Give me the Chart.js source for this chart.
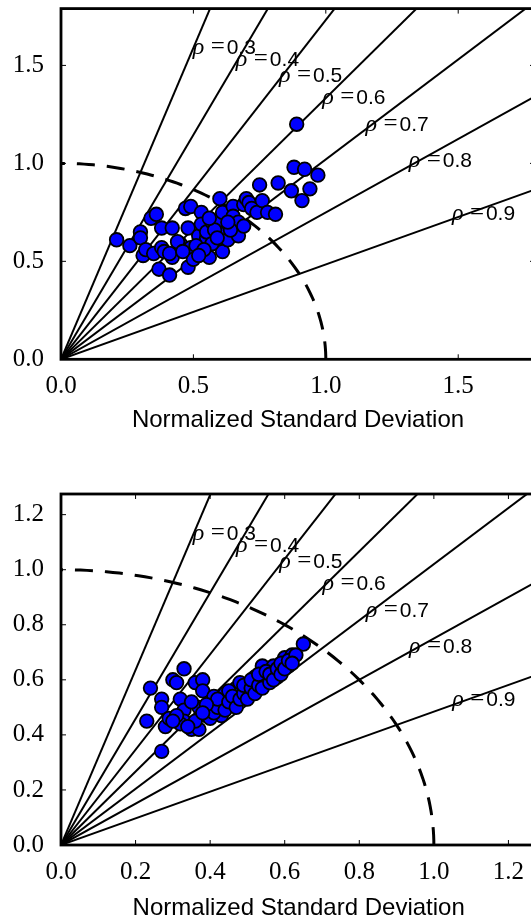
<!DOCTYPE html>
<html>
<head>
<meta charset="utf-8">
<script src="https://cdn.jsdelivr.net/npm/chart.js@4.4.0/dist/chart.umd.min.js"></script>
<style>
html, body { margin: 0; padding: 0; overflow: hidden; background: #fff; width: 531px; height: 924px; }
canvas { position: absolute; left: 0; }
#top { top: 0; }
#bottom { top: 462px; }
</style>
</head>
<body>
<canvas id="top" width="545" height="462"></canvas>
<canvas id="bottom" width="545" height="462"></canvas>
<script>
// correlation lines
const rhoValues = [0.3, 0.4, 0.5, 0.6, 0.7, 0.8, 0.9]

// top panel
const topTicks = [0.0, 0.5, 1.0, 1.5]
const topX = [0.21, 0.26, 0.30, 0.30, 0.31, 0.32, 0.34, 0.36, 0.35, 0.38, 0.42, 0.37, 0.41, 0.38, 0.42, 0.39,
  0.45, 0.41, 0.47, 0.49, 0.48, 0.48, 0.49, 0.50, 0.52, 0.53, 0.55, 0.56, 0.53, 0.55, 0.57, 0.60,
  0.60, 0.61, 0.61, 0.62, 0.63, 0.65, 0.65, 0.66, 0.67, 0.67, 0.69, 0.70, 0.71, 0.69, 0.72, 0.74,
  0.76, 0.75, 0.78, 0.81, 0.82, 0.87, 0.88, 0.89, 0.92, 0.97, 0.94, 0.91, 0.57, 0.51, 0.58, 0.64,
  0.44, 0.46, 0.54, 0.59, 0.52, 0.56, 0.63]
const topY = [0.61, 0.58, 0.65, 0.62, 0.53, 0.56, 0.72, 0.74, 0.54, 0.67, 0.67, 0.46, 0.43, 0.57, 0.52, 0.55,
  0.59, 0.54, 0.77, 0.78, 0.67, 0.47, 0.57, 0.51, 0.63, 0.75, 0.62, 0.52, 0.69, 0.65, 0.70, 0.82,
  0.71, 0.55, 0.75, 0.64, 0.61, 0.78, 0.73, 0.68, 0.63, 0.70, 0.79, 0.82, 0.80, 0.68, 0.77, 0.75,
  0.81, 0.89, 0.75, 0.74, 0.90, 0.86, 0.98, 1.20, 0.97, 0.94, 0.87, 0.81, 0.59, 0.58, 0.66, 0.66,
  0.60, 0.55, 0.56, 0.62, 0.53, 0.72, 0.70]

// bottom panel
const bottomTicks = [0.0, 0.2, 0.4, 0.6, 0.8, 1.0, 1.2]
const bottomX = [0.23, 0.24, 0.27, 0.27, 0.27, 0.28, 0.29, 0.30, 0.31, 0.32, 0.33, 0.33, 0.33, 0.32, 0.35, 0.37,
  0.36, 0.38, 0.38, 0.37, 0.39, 0.40, 0.41, 0.43, 0.43, 0.44, 0.46, 0.47, 0.47, 0.48, 0.50, 0.52,
  0.54, 0.55, 0.57, 0.58, 0.60, 0.61, 0.62, 0.65, 0.40, 0.41, 0.42, 0.42, 0.44, 0.45, 0.45, 0.46,
  0.47, 0.48, 0.49, 0.49, 0.50, 0.51, 0.51, 0.52, 0.53, 0.53, 0.54, 0.55, 0.56, 0.56, 0.57, 0.58,
  0.59, 0.59, 0.60, 0.61, 0.63, 0.62, 0.39, 0.36, 0.34, 0.31, 0.30, 0.35, 0.38]
const bottomY = [0.45, 0.57, 0.34, 0.53, 0.50, 0.43, 0.46, 0.60, 0.59, 0.53, 0.64, 0.49, 0.45, 0.44, 0.42, 0.42,
  0.59, 0.60, 0.56, 0.50, 0.47, 0.50, 0.54, 0.51, 0.47, 0.55, 0.51, 0.54, 0.57, 0.59, 0.56, 0.61,
  0.65, 0.60, 0.65, 0.61, 0.68, 0.65, 0.69, 0.73, 0.46, 0.48, 0.50, 0.53, 0.49, 0.52, 0.56, 0.54,
  0.50, 0.53, 0.55, 0.58, 0.53, 0.57, 0.60, 0.55, 0.58, 0.62, 0.57, 0.63, 0.59, 0.62, 0.60, 0.64,
  0.62, 0.66, 0.64, 0.67, 0.69, 0.66, 0.51, 0.45, 0.43, 0.47, 0.45, 0.52, 0.48]

const tickFont = { family: '"Liberation Serif", serif', size: 25 }

// rho labels, inward ticks and the box
const taylorExtras = {
  id: 'taylorExtras',
  afterDatasetsDraw(chart, args, opts) {
    const { ctx, chartArea: a, scales: { x, y } } = chart
    ctx.save()
    ctx.fillStyle = '#000'
    ctx.textAlign = 'left'
    ctx.textBaseline = 'alphabetic'
    rhoValues.forEach(rho => {
      const px = x.getPixelForValue(opts.labelR * rho)
      const py = y.getPixelForValue(opts.labelR * Math.sqrt(1 - rho * rho))
      ctx.font = 'italic 24px "Liberation Serif"'
      ctx.fillText('ρ', px + 2, py)
      ctx.font = '25px "Liberation Serif"'
      ctx.fillText('=', px + 20, py)
      ctx.font = '21px "Liberation Sans"'
      ctx.fillText(rho.toFixed(1), px + 36, py)
    })

    ctx.strokeStyle = '#000'
    ctx.lineWidth = 1
    ctx.beginPath()
    opts.ticks.forEach(v => {
      const px = x.getPixelForValue(v)
      const py = y.getPixelForValue(v)
      ctx.moveTo(px, a.bottom); ctx.lineTo(px, a.bottom - 5)
      ctx.moveTo(px, a.top); ctx.lineTo(px, a.top + 5)
      ctx.moveTo(a.left, py); ctx.lineTo(a.left + 5, py)
      ctx.moveTo(a.right, py); ctx.lineTo(a.right - 5, py)
    })
    ctx.stroke()

    ctx.lineWidth = 2.8
    ctx.strokeRect(a.left, a.top, a.right - a.left, a.bottom - a.top)
    ctx.restore()
  }
}

function makeTaylor(id, xs, ys, ticks, max, labelR, plotTop, plotBottom, plotRight, titlePad) {
  const canvas = document.getElementById(id)
  const H = canvas.height

  const datasets = [{
    data: xs.map((v, i) => ({ x: v, y: ys[i] })),
    backgroundColor: '#0000ff',
    borderColor: '#000',
    borderWidth: 1.8,
    pointRadius: 6.8,
    pointHoverRadius: 6.8,
    order: 0
  }]

  // reference arc, normalized std = 1
  const arc = []
  for (let a = 0; a <= 90; a += 1) {
    arc.push({ x: Math.cos(a * Math.PI / 180), y: Math.sin(a * Math.PI / 180) })
  }
  datasets.push({
    data: arc, showLine: true, borderColor: '#000', borderWidth: 3,
    borderDash: [18, 12], pointRadius: 0, pointHoverRadius: 0, order: 1
  })

  rhoValues.forEach(rho => {
    datasets.push({
      data: [{ x: 0, y: 0 }, { x: 3 * rho, y: 3 * Math.sqrt(1 - rho * rho) }],
      showLine: true, borderColor: '#000', borderWidth: 2,
      pointRadius: 0, pointHoverRadius: 0, order: 2
    })
  })

  return new Chart(canvas, {
    type: 'scatter',
    data: { datasets },
    options: {
      responsive: false,
      animation: false,
      events: [],
      layout: { padding: { top: plotTop, right: canvas.width - plotRight, left: 0, bottom: 0 } },
      plugins: {
        legend: { display: false },
        tooltip: { enabled: false },
        taylorExtras: { ticks, labelR }
      },
      scales: {
        x: {
          min: 0, max,
          grid: { display: false, drawTicks: false },
          border: { display: false },
          afterBuildTicks: s => { s.ticks = ticks.map(v => ({ value: v })) },
          afterFit: s => { s.height = H - plotBottom; s.paddingLeft = 0; s.paddingRight = 0 },
          ticks: { color: '#000', font: tickFont, padding: 12, maxRotation: 0, callback: v => v.toFixed(1) },
          title: {
            display: true, text: 'Normalized Standard Deviation', color: '#000',
            font: { family: '"Liberation Sans", sans-serif', size: 24 },
            padding: { top: 0, bottom: titlePad }
          }
        },
        y: {
          min: 0, max,
          grid: { display: false, drawTicks: false },
          border: { display: false },
          afterBuildTicks: s => { s.ticks = ticks.map(v => ({ value: v })) },
          afterFit: s => { s.width = 61; s.paddingTop = 0; s.paddingBottom = 0 },
          ticks: { color: '#000', font: tickFont, padding: 17, callback: v => v.toFixed(1) }
        }
      }
    },
    plugins: [taylorExtras]
  })
}

makeTaylor('top', topX, topY, topTicks, 1.79, 1.632, 7.3, 359.3, 535, 27)
makeTaylor('bottom', bottomX, bottomY, bottomTicks, 1.275, 1.16, 32, 383, 537.5, 1)
</script>
</body>
</html>
